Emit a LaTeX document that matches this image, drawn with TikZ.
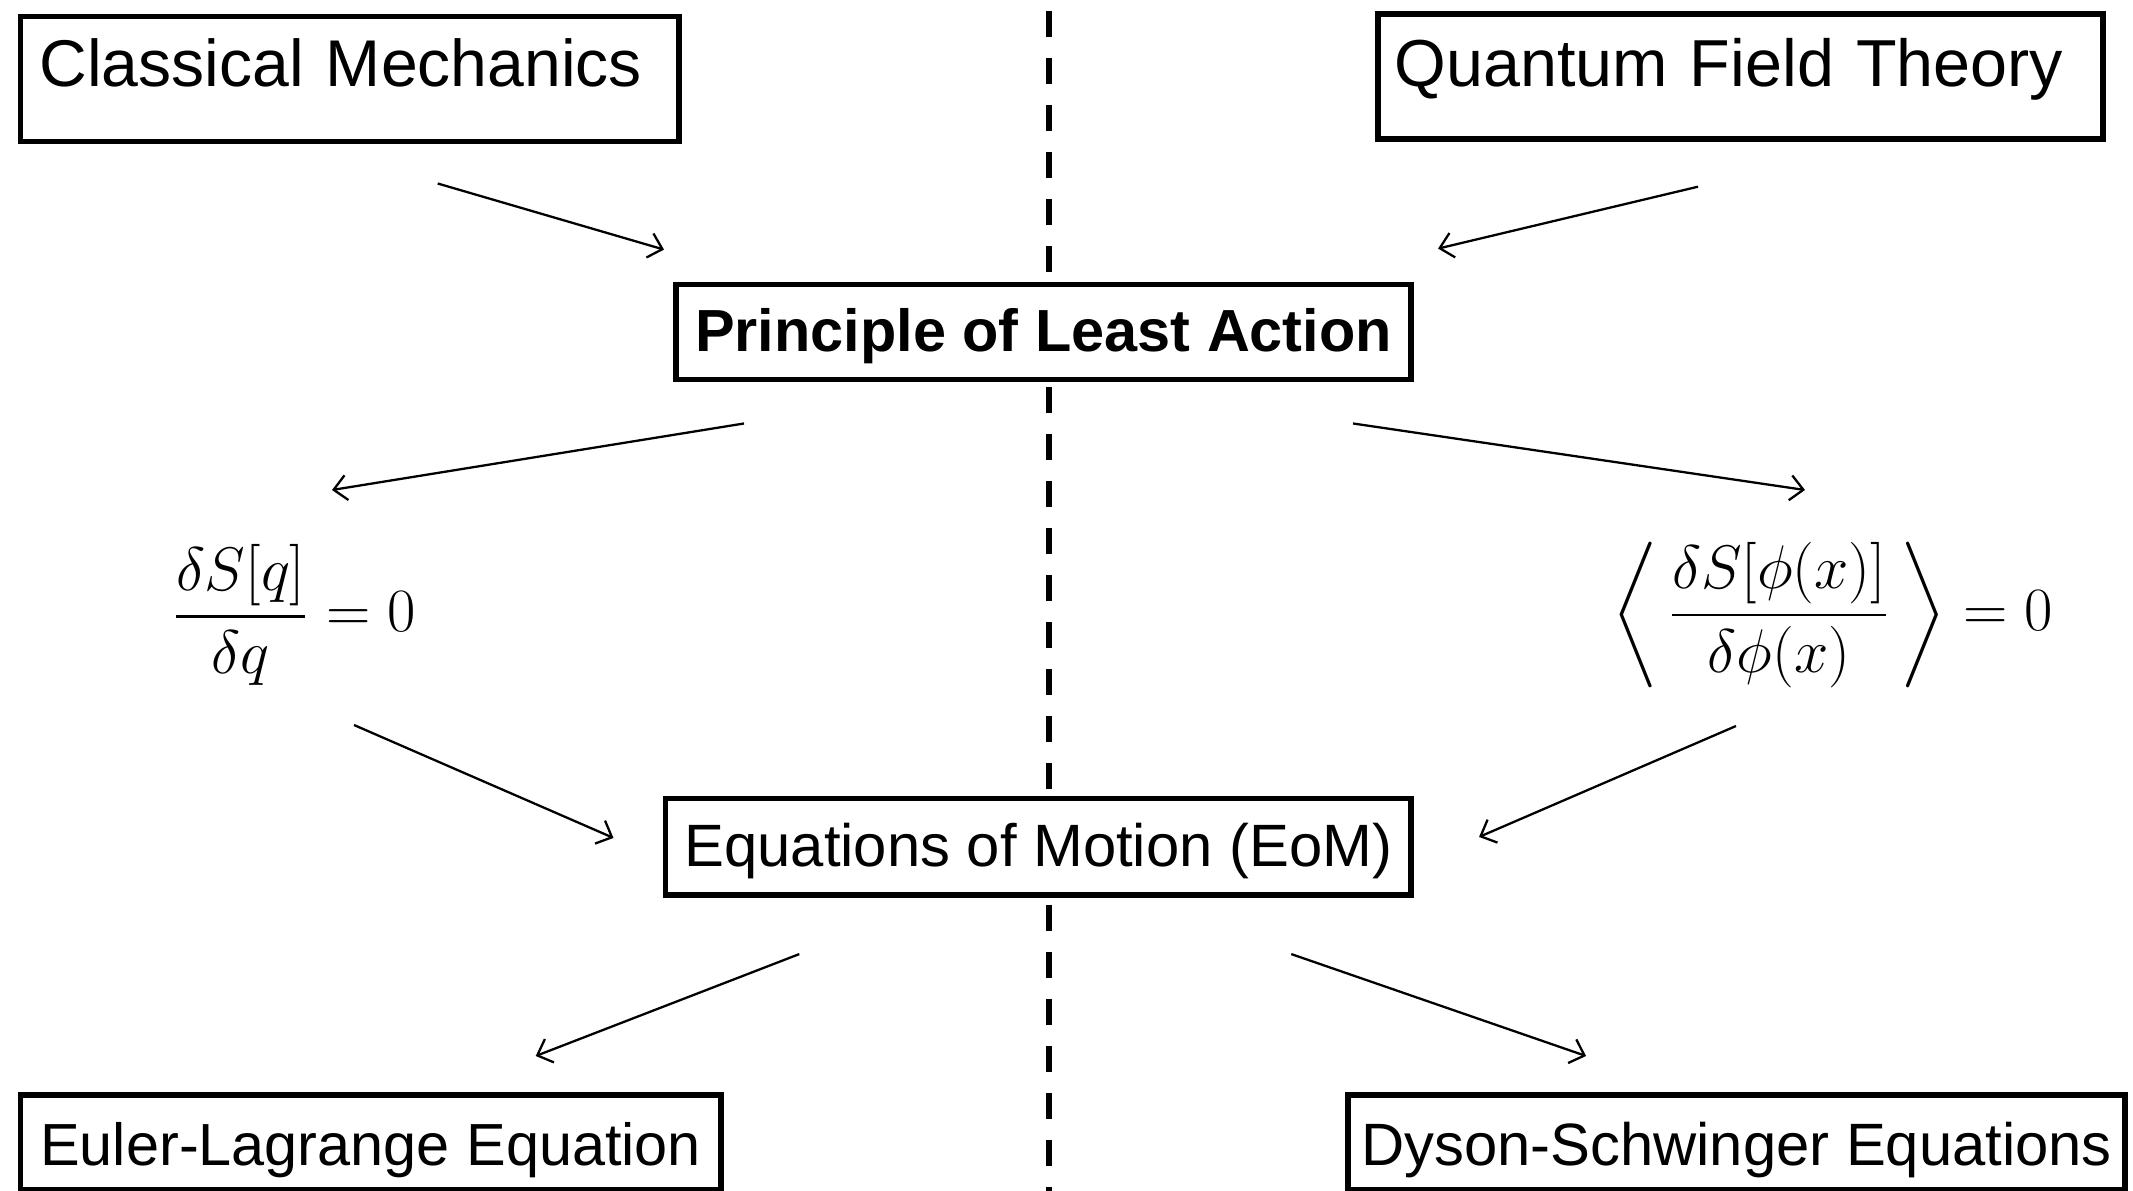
\RequirePackage{fix-cm}
\documentclass[tikz,border=0pt]{standalone}
\usepackage{amsmath}
\usepackage[no-math]{fontspec}
\setmainfont{Liberation Sans}
\usetikzlibrary{arrows.meta}

\begin{document}
\begin{tikzpicture}[
  x=0.01cm, y=-0.01cm,
  box/.style={draw, fill=white, line width=1.6pt, anchor=north west, inner sep=0pt},
  flow/.style={-{Straight Barb[length=1.3mm, width=2.5mm]}, line width=0.65pt},
  divider/.style={line width=1.6pt, dash pattern=on 0.26cm off 0.21cm},
  eqn/.style={inner sep=0pt, font=\fontsize{17.5}{21}\selectfont}
]
\useasboundingbox (0,0) rectangle (2133,1191);

\coordinate (div-top) at (1049,11);
\coordinate (div-bot) at (1049,1191);
\draw[divider] (div-top) -- (div-bot);

\node[box, align=left, text width=6.2cm, inner xsep=0.19cm, text height=0.7cm, text depth=0.552cm, font=\fontsize{18.8}{22}\selectfont] (cm) at (17.7,13.6) {Classical Mechanics};
\node[box, align=left, text width=6.918cm, inner xsep=0.166cm, text height=0.727cm, text depth=0.524cm, font=\fontsize{18.9}{22}\selectfont] (qft) at (1375,10.9) {Quantum Field Theory};
\node[box, minimum width=7.35cm, text height=0.666cm, text depth=0.286cm, font=\fontsize{16.9}{20}\selectfont\bfseries] (pla) at (673,281.6) {Principle of Least Action};
\node[eqn] (lag) at (294,615) {$\displaystyle \frac{\delta S[q]}{\delta q} = 0$};
\node[eqn] (qfe) at (1832.5,615) {$\displaystyle \biggl\langle\, \frac{\delta S[\phi(x)]}{\delta\phi(x)} \,\biggr\rangle = 0$};
\node[box, minimum width=7.455cm, text height=0.68cm, text depth=0.286cm, font=\fontsize{17}{20}\selectfont] (eom) at (662.5,795.8) {Equations of Motion (EoM)};
\node[box, minimum width=7.0cm, text height=0.71cm, text depth=0.24cm, font=\fontsize{16.9}{20}\selectfont] (el) at (17.7,1092) {Euler-Lagrange Equation};
\node[box, minimum width=7.77cm, text height=0.71cm, text depth=0.24cm, font=\fontsize{17}{20}\selectfont] (ds) at (1345,1092) {Dyson-Schwinger Equations};

\draw[flow] ([shift={(88,39)}]cm.south) -- ([shift={(-9,-32)}]pla.north west);
\draw[flow] ([shift={(-42.5,45)}]qft.south) -- ([shift={(24,-33)}]pla.north east);
\draw[flow] ([shift={(71,41)}]pla.south west) -- ([shift={(38,-125)}]lag.center);
\draw[flow] ([shift={(-61,41)}]pla.south east) -- ([shift={(-27.5,-125)}]qfe.center);
\draw[flow] ([shift={(60,110)}]lag.center) -- ([shift={(-49,-9)}]eom.west);
\draw[flow] ([shift={(-96.5,111)}]qfe.center) -- ([shift={(65,-10)}]eom.east);
\draw[flow] ([shift={(-239,56)}]eom.south) -- ([shift={(165,-36)}]el.north);
\draw[flow] ([shift={(253,56)}]eom.south) -- ([shift={(-150.5,-36)}]ds.north);
\end{tikzpicture}
\end{document}
